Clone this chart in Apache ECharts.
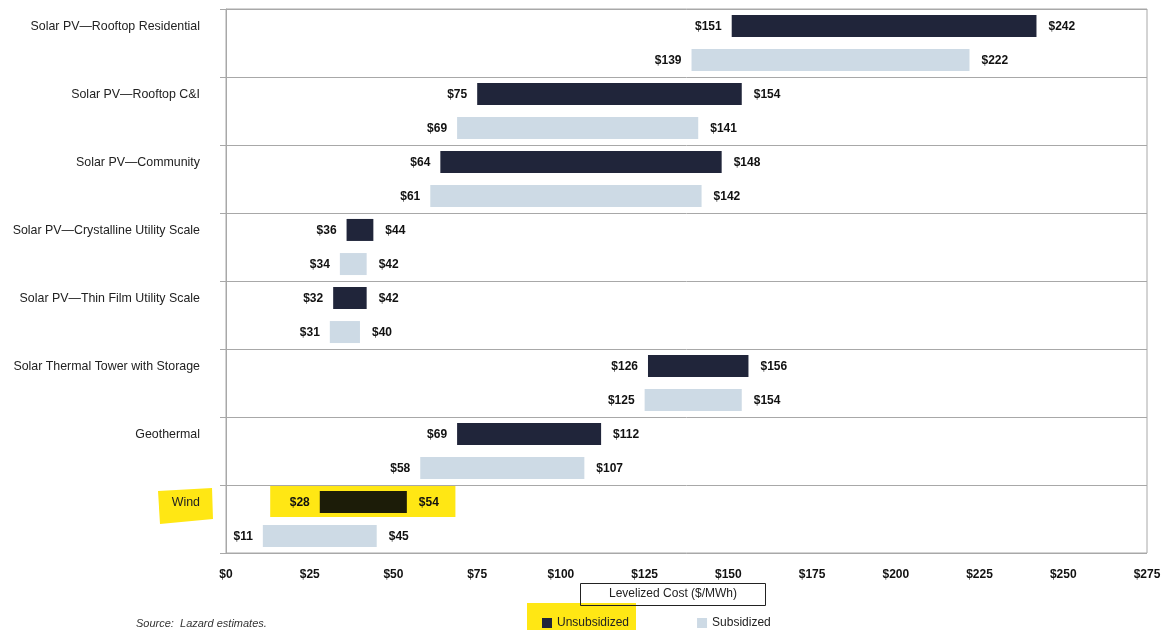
<!DOCTYPE html>
<html>
<head>
<meta charset="utf-8">
<script src="https://cdn.jsdelivr.net/npm/echarts@6/dist/echarts.min.js"></script>
<style>
  html, body { margin: 0; padding: 0; background: #fff; }
  #chart { width: 1167px; height: 630px; }
</style>
</head>
<body>
<div id="chart"></div>
<script>
// Levelized cost ranges ($/MWh), unsubsidized vs. subsidized
const categories = [
  'Solar PV—Rooftop Residential',
  'Solar PV—Rooftop C&I',
  'Solar PV—Community',
  'Solar PV—Crystalline Utility Scale',
  'Solar PV—Thin Film Utility Scale',
  'Solar Thermal Tower with Storage',
  'Geothermal',
  'Wind'
];
const unsubLow  = [151, 75, 64, 36, 32, 126, 69, 28];
const unsubHigh = [242, 154, 148, 44, 42, 156, 112, 54];
const subLow    = [139, 69, 61, 34, 31, 125, 58, 11];
const subHigh   = [222, 141, 142, 42, 40, 154, 107, 45];
const axisMin = 0, axisMax = 275, axisStep = 25;

const DARK = '#20253a';
const DARK_HL = '#1c1c08';
const LIGHT = '#cddae5';
const YELLOW = '#ffe714';
const NUM_FONT = "'Liberation Sans Narrow', 'Arial Narrow', 'Liberation Sans', Arial, sans-serif";
const TXT_FONT = "'Liberation Sans', Arial, sans-serif";

const chart = echarts.init(document.getElementById('chart'), null, { renderer: 'canvas' });

const valueLabel = {
  show: true,
  color: '#111',
  fontFamily: NUM_FONT,
  fontWeight: 'bold',
  fontSize: 12
};

const span = (lo, hi) => hi.map((h, i) => h - lo[i]);

chart.setOption({
  animation: false,
  grid: { left: 226, right: 20, top: 9, bottom: 77, show: true, borderColor: '#a8a8a8', borderWidth: 1 },
  title: [
    {
      text: 'Levelized Cost ($/MWh)',
      left: 580, top: 583,
      padding: [5, 29, 6, 29],
      borderColor: '#222', borderWidth: 1,
      textStyle: { fontFamily: TXT_FONT, fontSize: 12, fontWeight: 'normal', color: '#222' }
    },
    {
      text: 'Source:  Lazard estimates.',
      left: 136, top: 618,
      padding: 0,
      textStyle: { fontFamily: TXT_FONT, fontSize: 11, fontStyle: 'italic', fontWeight: 'normal', color: '#333' }
    }
  ],
  legend: {
    data: ['Unsubsidized', 'Subsidized'],
    left: 537, top: 612,
    icon: 'rect', itemWidth: 10, itemHeight: 10, itemGap: 68,
    selectedMode: false,
    textStyle: { fontFamily: TXT_FONT, fontSize: 12, color: '#222' }
  },
  xAxis: {
    type: 'value',
    min: axisMin, max: axisMax, interval: axisStep,
    axisLine: { show: false },
    axisTick: { show: false },
    splitLine: { show: false },
    axisLabel: {
      margin: 16,
      color: '#111', fontFamily: NUM_FONT, fontWeight: 'bold', fontSize: 12,
      formatter: v => '$' + v
    }
  },
  yAxis: {
    type: 'category',
    data: categories,
    inverse: true,
    z: 5,
    axisLine: { show: true, lineStyle: { color: '#a8a8a8', width: 1 } },
    axisTick: { show: true, length: 6, lineStyle: { color: '#a8a8a8' } },
    splitLine: { show: true, lineStyle: { color: '#a8a8a8', width: 1 } },
    axisLabel: {
      margin: 26,
      color: '#222', fontFamily: TXT_FONT, fontSize: 12.4,
      verticalAlign: 'bottom', lineHeight: 33
    }
  },
  series: [
    {
      name: 'unsubBase', type: 'bar', stack: 'u', barWidth: 22, barGap: '55%',
      data: unsubLow,
      itemStyle: { color: 'transparent' },
      label: Object.assign({}, valueLabel, {
        position: 'insideRight', distance: 0, offset: [-10, 1],
        formatter: p => '$' + unsubLow[p.dataIndex]
      }),
      silent: true
    },
    {
      name: 'Unsubsidized', type: 'bar', stack: 'u', barWidth: 22, barGap: '55%',
      data: span(unsubLow, unsubHigh).map((v, i) =>
        categories[i] === 'Wind' ? { value: v, itemStyle: { color: DARK_HL } } : v),
      itemStyle: { color: DARK },
      label: Object.assign({}, valueLabel, {
        position: 'right', distance: 12, offset: [0, 1],
        formatter: p => '$' + unsubHigh[p.dataIndex]
      })
    },
    {
      name: 'subBase', type: 'bar', stack: 's', barWidth: 22, barGap: '55%',
      data: subLow,
      itemStyle: { color: 'transparent' },
      label: Object.assign({}, valueLabel, {
        position: 'insideRight', distance: 0, offset: [-10, 1],
        formatter: p => '$' + subLow[p.dataIndex]
      }),
      silent: true
    },
    {
      name: 'Subsidized', type: 'bar', stack: 's', barWidth: 22, barGap: '55%',
      data: span(subLow, subHigh),
      itemStyle: { color: LIGHT },
      label: Object.assign({}, valueLabel, {
        position: 'right', distance: 12, offset: [0, 1],
        formatter: p => '$' + subHigh[p.dataIndex]
      })
    }
  ]
});

// Highlighter marks around the Wind row and the "Unsubsidized" legend entry
const windIdx = categories.indexOf('Wind');
const rowY = chart.convertToPixel({ yAxisIndex: 0 }, categories[windIdx]);
const darkY = rowY - 17;
const hlLeft = chart.convertToPixel({ xAxisIndex: 0 }, 13.2);
const hlRight = chart.convertToPixel({ xAxisIndex: 0 }, 68.5);

chart.setOption({
  graphic: [
    {
      type: 'rect', z: -1, silent: true,
      shape: { x: hlLeft, y: darkY - 16, width: hlRight - hlLeft, height: 31 },
      style: { fill: YELLOW }
    },
    {
      type: 'polygon', z: -1, silent: true,
      shape: { points: [[158, darkY - 11], [212, darkY - 14], [213, darkY + 17], [160, darkY + 22]] },
      style: { fill: YELLOW }
    },
    {
      type: 'rect', z: -1, silent: true,
      shape: { x: 527, y: 603, width: 109, height: 30 },
      style: { fill: YELLOW }
    }
  ]
});
</script>
</body>
</html>
